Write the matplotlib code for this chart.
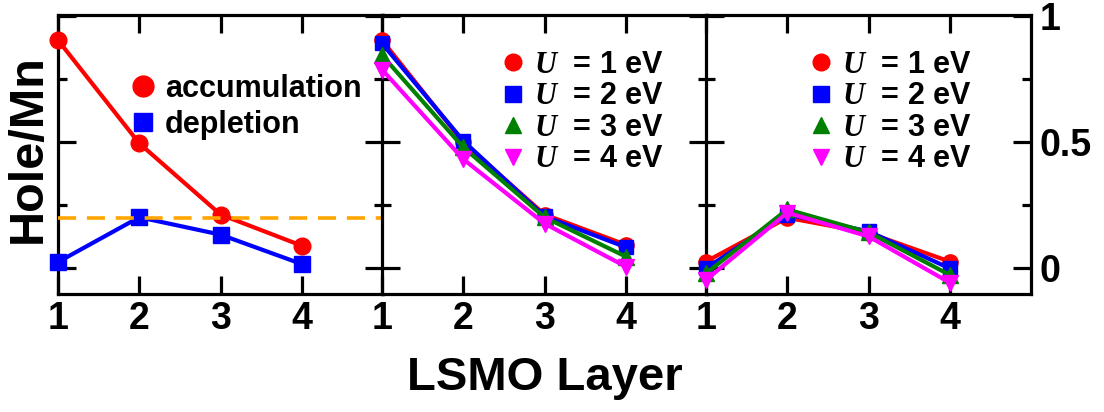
import matplotlib
matplotlib.use("Agg")
import matplotlib.pyplot as plt
from matplotlib.lines import Line2D

# fonts: Helvetica-like bold text, bold-italic serif U in legends
plt.rcParams['font.family'] = ['Liberation Sans', 'DejaVu Sans']
plt.rcParams['font.weight'] = 'bold'
plt.rcParams['mathtext.fontset'] = 'custom'
plt.rcParams['mathtext.it'] = 'Liberation Serif:italic:bold'
plt.rcParams['mathtext.rm'] = 'Liberation Sans:bold'

# data
layers = [1, 2, 3, 4]
tick_labels = ['1', '2', '3', '4']
y_ticks = [0, 0.5, 1]
y_tick_labels = ['0', '0.5', '1']

accumulation = [0.904, 0.494, 0.211, 0.087]
depletion = [0.022, 0.200, 0.131, 0.014]
reference_level = 0.198

u_values = [1, 2, 3, 4]
accum_by_u = [
    [0.904, 0.498, 0.211, 0.091],
    [0.891, 0.504, 0.204, 0.081],
    [0.844, 0.478, 0.200, 0.044],
    [0.787, 0.431, 0.175, 0.004],
]
depl_by_u = [
    [0.024, 0.198, 0.138, 0.024],
    [-0.003, 0.211, 0.144, -0.003],
    [-0.023, 0.231, 0.140, -0.029],
    [-0.049, 0.218, 0.124, -0.060],
]

u_colors = ['#ff0000', '#0000ff', '#008000', '#ff00ff']
u_markers = ['o', 's', '^', 'v']
u_sizes = [11, 10, 11, 11]

W, H = 1104, 412
fig = plt.figure(figsize=(W / 100, H / 100), dpi=100)

lefts = [58, 382, 706]
pw = 325
top_px, bot_px = 15, 294
axes = []
for lx in lefts:
    ax = fig.add_axes([lx / W, (H - bot_px) / H, pw / W, (bot_px - top_px) / H])
    axes.append(ax)

for ax in axes:
    ax.set_xlim(1, 5)
    ax.set_ylim(-0.105, 1.004)
    ax.set_xticks(layers)
    ax.set_xticklabels(tick_labels)
    ax.set_yticks(y_ticks)
    ax.set_yticklabels(y_tick_labels)
    ax.set_yticks([0.25, 0.75], minor=True)
    for s in ax.spines.values():
        s.set_linewidth(2.3)
    ax.tick_params(which='both', direction='in', top=True, right=True,
                   left=True, bottom=True, width=2.3, labelleft=False,
                   labelsize=27, pad=5)
    ax.tick_params(which='major', length=13)
    ax.tick_params(which='minor', length=6.5)

axes[2].tick_params(axis='y', labelright=True, pad=6)

# panel 1: accumulation vs depletion
ax1 = axes[0]
ax1.plot(layers, accumulation, color='#ff0000', marker='o', ms=12, lw=3, clip_on=False, zorder=3)
ax1.plot(layers, depletion, color='#0000ff', marker='s', ms=11, lw=3, clip_on=False, zorder=3)
ax1.axhline(reference_level, color='#ffa500', ls=(0, (5, 3)), lw=2.6, zorder=4)
h1 = [Line2D([], [], color='#ff0000', marker='o', ls='none', ms=15),
      Line2D([], [], color='#0000ff', marker='s', ls='none', ms=13)]
ax1.legend(h1, ['accumulation', 'depletion'], loc='upper left',
           bbox_to_anchor=(0.225, 0.79), frameon=False, fontsize=22,
           handlelength=0.8, handletextpad=0.3, labelspacing=0.2,
           borderpad=0, borderaxespad=0)

# panels 2 and 3: different U
for ax, series in zip(axes[1:], [accum_by_u, depl_by_u]):
    for vals, c, m, s in zip(series, u_colors, u_markers, u_sizes):
        ax.plot(layers, vals, color=c, marker=m, ms=s, lw=3, clip_on=False, zorder=3)
    handles = [Line2D([], [], color=c, marker=m, ls='none', ms=s + 1)
               for c, m, s in zip(u_colors, u_markers, u_sizes)]
    labels = [f'$U$  = {u} eV' for u in u_values]
    ax.legend(handles, labels, loc='upper left', frameon=False, fontsize=22,
              handlelength=0.8, handletextpad=0.3, labelspacing=0.05,
              borderpad=0, borderaxespad=0,
              bbox_to_anchor=(0.365, 0.875) if ax is axes[1] else (0.315, 0.875))

axes[1].set_xlabel('LSMO Layer', fontsize=34, fontweight='bold', labelpad=14)
fig.text(0.026, 0.64, 'Hole/Mn', rotation=90, fontsize=35,
         ha='center', va='center')

fig.savefig('out.png', dpi=100)
